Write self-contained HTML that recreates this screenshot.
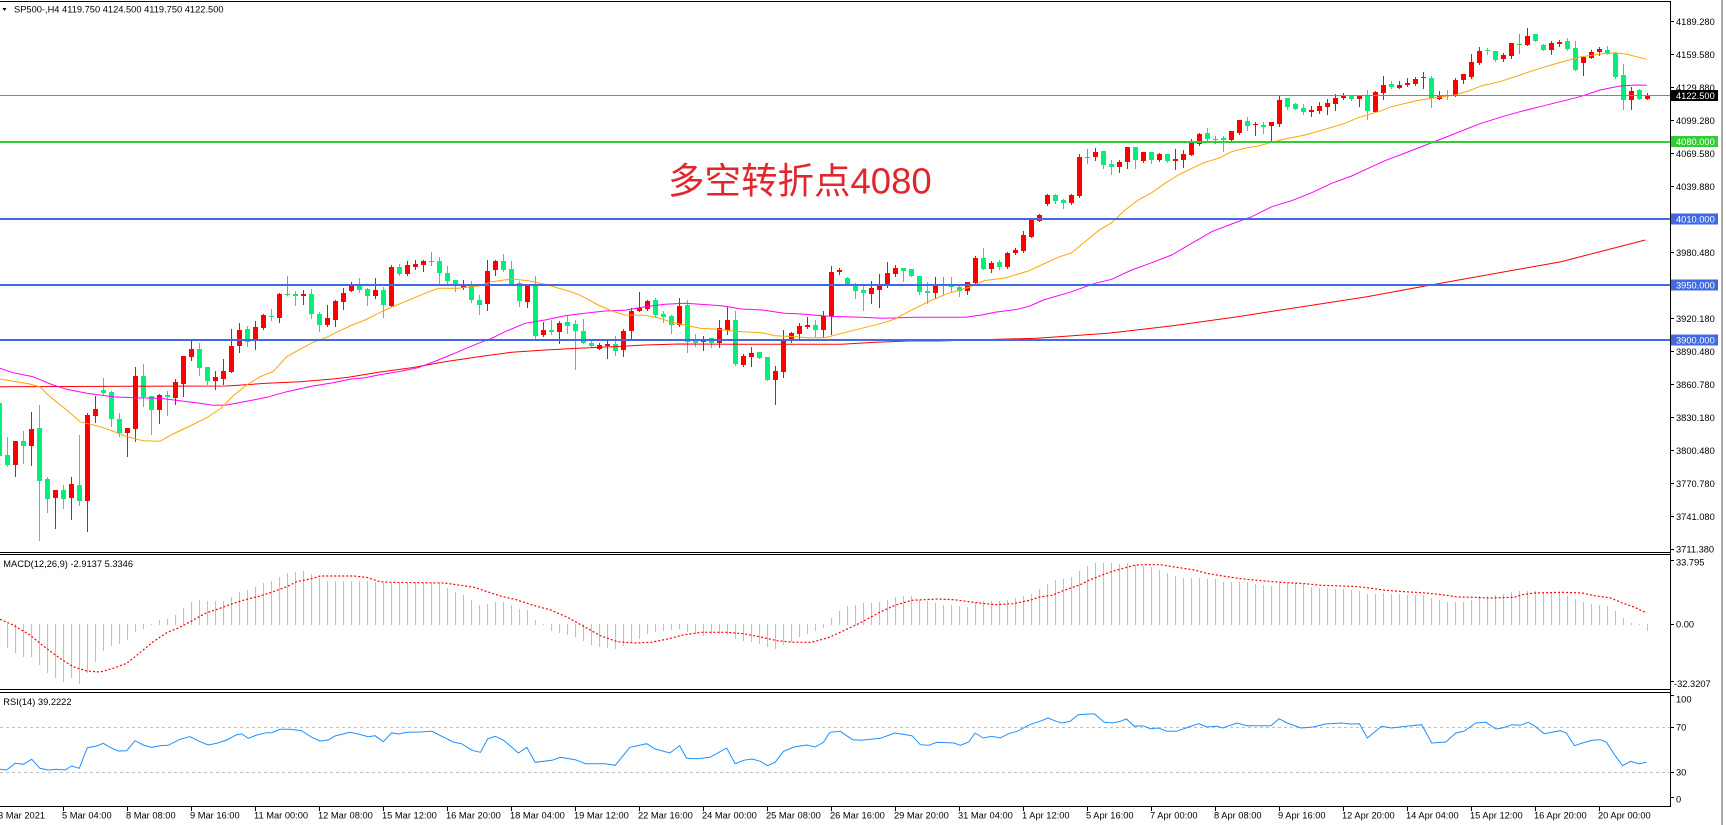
<!DOCTYPE html>
<html><head><meta charset="utf-8">
<style>
html,body{margin:0;padding:0;background:#fff;width:1726px;height:825px;overflow:hidden}
svg{display:block}
text{font-family:"Liberation Sans","Noto Sans CJK SC",sans-serif;font-size:9.3px;fill:#000}
.w{fill:#fff}
</style></head><body>
<svg id="chart" width="1726" height="825" viewBox="0 0 1726 825">
<defs>
<clipPath id="cm"><rect x="0" y="2" width="1670" height="550"/></clipPath>
<clipPath id="cd"><rect x="0" y="555" width="1670" height="134"/></clipPath>
<clipPath id="cr"><rect x="0" y="693" width="1670" height="112"/></clipPath>
</defs>
<rect width="1726" height="825" fill="#fff"/>

<g clip-path="url(#cm)">
<g id="cdl" shape-rendering="crispEdges"></g>
<polyline fill="none" stroke="#ff0000" stroke-width="1" points="0,386.7 226.7,386 266.7,383.3 300,381.7 333,379 350,377 378.3,372.3 411.7,367.7 445,361.7 478.3,356.7 511.7,352.3 545,350 578.3,348.3 611.7,346.7 645,345 678.3,344 741.7,344.3 841.7,344.3 875,342.3 908.3,341 938.3,341 990,339.5 1036.9,338.3 1108,333.3 1172.8,325.7 1237.5,316.7 1302.2,306.7 1367,296.7 1425.2,286 1496.4,273.3 1561,261.7 1645.3,240"/>
<polyline fill="none" stroke="#ff00ff" stroke-width="1" points="0,368.3 13,372.7 33,376.7 53,385 66.7,389.3 86.7,393.3 113,396.7 133,397.7 160,398.3 180,400.7 200,403.3 213,405.3 226.7,405 246.7,401.3 266.7,397.3 286.7,391.7 313,386 333,382.7 350,379.3 365,377.7 378.3,375 398.3,371.7 418.3,367.7 438.3,360 458.3,351.7 478.3,343.3 491.7,338.3 505,331.7 525,323.3 545,320 565,315.7 585,313.3 605,311 625,310.3 645,306.7 665,304.3 685,303.3 700,304.3 721.7,305.7 741.7,309 761.7,310 784.4,313.3 801.7,314 828.3,316.3 861.7,317.3 881.7,318.3 915,317.3 965.7,317.3 981.7,315 995,312.3 1017.5,309.3 1030,306 1043.3,300 1071.7,291.7 1095,283.3 1111.7,279.3 1131.7,270 1151.7,262.7 1171.7,255 1191.7,243.3 1211.7,231.7 1231.7,224 1251.7,216.7 1271.7,206.7 1291.7,200.7 1311.7,192.7 1331.7,183.3 1351.7,176 1371.7,166.7 1385,160.7 1400,155 1440,139.5 1478.3,124.3 1500,117.3 1520,111.7 1540,106.7 1560,101.7 1580,96.7 1600,90 1620,86 1636.7,85 1646.7,85.3"/>
<polyline fill="none" stroke="#ffa500" stroke-width="1" points="0,379 30,384 40,387 50,396.7 66.7,410 80,421.7 100,426.7 110,430 126.7,436.7 143,440.7 160,441.3 173,434 190,426 206.7,417.7 220,409 233,396 246.7,385 260,376.7 273,371.7 286.7,356.7 300,349.3 313,342.3 326.7,337.3 340,330.7 350,326 365,320 385,310 405,301.7 425,293.3 438.3,288.3 458,288.3 478.3,286 491.7,281.7 511.7,279 528.3,280.7 545,284.3 565,290 578.3,294.3 598.3,305 611.7,311 625,315 645,315.3 658.3,317.7 671.7,322.3 688.3,325.7 700,328.3 715,329 741.7,331.7 761.7,332.7 775,335.7 795,336.7 808.3,337.7 825,337.7 841.7,333.3 861.7,328.3 881.7,323.3 895,319 908.3,311.7 928.3,301.7 948.3,293.3 968.3,287.5 985,280.5 1005,278 1028.3,271 1045,263.3 1058.3,257.3 1071.7,252.7 1085,241.7 1098.3,230.7 1111.7,222.7 1125,210 1138.3,200 1151.7,192.7 1165,183.3 1178.3,175 1191.7,168.3 1205,162.3 1218.3,158.3 1231.7,151.7 1245,148.3 1258.3,146 1271.7,142.3 1285,139 1305,135 1325,129.3 1345,123.3 1358.3,117.7 1378.3,111.7 1391.7,106.7 1415,101 1435,97.7 1455,95 1468.3,91 1481.7,85.7 1500,81.7 1520,75 1540,68.3 1560,62.5 1580,57 1600,54 1615,52.7 1626.7,54.3 1646.7,59.3"/>
<g shape-rendering="crispEdges">
<rect x="0" y="95" width="1670" height="1" fill="#778899"/>
<rect x="0" y="141" width="1670" height="2" fill="#32cd32"/>
<rect x="0" y="218" width="1670" height="2" fill="#4169e1"/>
<rect x="0" y="284" width="1670" height="2" fill="#4169e1"/>
<rect x="0" y="339" width="1670" height="2" fill="#4169e1"/>
</g>
<text x="668" y="193.5" style="font-size:36.5px;fill:#e3262d">多空转折点4080</text>
</g>

<g clip-path="url(#cd)">
<g id="hist" shape-rendering="crispEdges"></g>
<polyline fill="none" stroke="#ff0000" stroke-width="1.2" stroke-dasharray="2 2" points="0,619.3 13.3,625 30,635 43.3,646 60,658.3 73.3,666.7 86.7,671 100,672 113.3,668.3 126.7,663.3 140,652.7 153.3,641.7 166.7,632.7 180,627.3 193.3,620 206.7,612.7 220,608.3 233.3,603.3 246.7,599.3 260,596 273.3,591.7 286.7,586.7 296.7,581.7 313.3,578.3 320,576 333.3,576 353.3,576 366.7,577.3 380,581.7 390,582.3 444.7,583 474.2,587.3 499.4,595.7 516.3,599.7 533.1,605.3 549.9,609.7 566.8,617 583.6,626.3 600.4,635.7 617.3,641.7 634.1,643 650.9,642.3 667.8,639 684.6,634.7 701.4,632.3 726.7,632.3 743.5,633.7 760.4,637 777.2,640.7 794,642.3 810.9,642.3 827.7,638 844.5,630.3 861.4,622.3 878.2,613 895,605.3 911.9,600.3 937.2,599 954,599.7 979.2,603 996.1,604.7 1012.9,603.7 1029.7,600.3 1040,597 1052,595.3 1064.1,590.3 1080.2,584.7 1088.2,580.7 1100.3,575.7 1112.3,571.3 1124.4,568 1132.4,565.7 1140.4,564.7 1160.5,564.7 1176.6,567.3 1192.7,569.7 1208.7,573.7 1224.8,576.3 1240.9,578.7 1257,580.3 1281.1,582.3 1305.2,583.7 1321.2,585.3 1353.4,586.3 1369.4,588 1385.5,590.3 1409.6,592 1425.7,593 1441.8,594.7 1457.8,597 1474,597.3 1490,598 1514.1,597.3 1522.1,594.7 1534.2,593 1562.3,592.3 1582.4,593 1594.4,595.7 1610.5,598 1622.6,603 1634.6,607.3 1646.7,613"/>
</g>

<g clip-path="url(#cr)">
<line x1="0" y1="727.5" x2="1670" y2="727.5" stroke="#c0c0c0" stroke-width="1" stroke-dasharray="3 3"/>
<line x1="0" y1="772.5" x2="1670" y2="772.5" stroke="#c0c0c0" stroke-width="1" stroke-dasharray="3 3"/>
<polyline fill="none" stroke="#1e90ff" stroke-width="1" points="0,769.3 6.7,770 15,763.3 23.3,764.3 31.7,759.3 40,768.3 48.3,770 56.7,769.3 65,770 71.7,766 79.3,768.3 87.3,747.7 96.7,746 103.3,743.3 110,747.3 118.3,751 126.7,750.7 135,740.7 143.3,745 151.7,747.3 160,745.7 168.3,745.3 180,739.3 190,736.7 200,741.7 208.3,745 216.7,743.3 226.7,740 236.7,734.7 241.7,734 248.3,738.3 256.7,735 266.7,732.7 271.7,732.7 280,729.3 290,729.3 301.7,730.7 311.7,737.3 320,741 328.3,740 335,736 350,732.3 358.3,734 368.3,736.7 375,735.7 383.3,741.7 391.7,732.7 398.4,734 406.8,732.3 419.5,732 432.1,731.3 440.5,735.7 453.1,742 461.5,743.7 472.1,750.3 480.5,752.3 487.6,739 495.2,736.3 503.6,740.3 518.4,753 526.8,747.3 535.2,762.3 552,760.3 560.5,757.3 575.2,759.7 585.7,763.7 604.6,763.7 615.2,765.3 629.9,747.3 646.7,743.7 655.2,749 669.9,753 679.6,745.7 686.7,758.3 697.2,758.7 709.9,757.3 726.7,748 735.1,763.7 743.5,760.3 752,759 760.4,761.3 767.5,765.7 775.1,762.3 783.5,751.3 794,747 806.7,745 815.1,747 823.5,742.3 829.8,732.3 840.3,731.3 846.6,735.7 852.9,739.7 861.4,740.3 880.3,738.3 895,733 911.9,735.7 920.3,744.7 928.7,745.3 937.1,742.3 954,743 960.3,745.3 968.7,742 975,733 983.4,738 991.8,736.3 1000.3,738 1008.7,733.7 1017.1,731.3 1029.7,724.7 1040,721.3 1048,718 1056.1,721.3 1062.1,723 1070.1,721.3 1078.2,714.7 1094.2,713.7 1104.3,722.3 1112.3,723 1120.4,721.3 1126.4,719 1134.4,726.3 1142.5,725.7 1150.5,728.7 1158.5,728 1166.6,731.3 1176.6,731.3 1188.7,727 1198.7,723.7 1206.7,727 1216.8,726.3 1222.8,728 1236.9,723 1246.9,725.7 1259,725.7 1271,725.7 1279.1,718.7 1287.1,723 1301.2,728 1313.2,727 1325.3,724 1341.3,723 1351.4,724 1359.4,723.7 1367.4,738 1381.5,726.3 1391.5,728 1405.6,726.3 1421.7,724.7 1431.7,743 1445.8,742 1455.8,733 1463.9,731.3 1475.9,723 1486,722.3 1496,729 1502.1,728 1512.1,724.7 1520.1,725.3 1528.2,722.3 1534.2,725.7 1544.2,733.7 1560.3,730.7 1566.3,733 1574.4,745.7 1582.4,743 1592.4,740.3 1600.5,739.7 1606.5,742.3 1614.5,754.7 1622.6,765.7 1630.6,761.3 1638.7,763.7 1646.7,762.3"/>
</g>

<!-- frame -->
<g shape-rendering="crispEdges" fill="#000">
<rect x="0" y="1" width="1671" height="1"/>
<rect x="0" y="552" width="1671" height="1"/>
<rect x="0" y="554" width="1671" height="1"/>
<rect x="0" y="689" width="1671" height="1"/>
<rect x="0" y="692" width="1671" height="1"/>
<rect x="0" y="806" width="1671" height="1"/>
<rect x="1670" y="1" width="1" height="806"/>
<!-- price ticks -->
<rect x="1670" y="21" width="4" height="1"/><rect x="1670" y="54" width="4" height="1"/>
<rect x="1670" y="87" width="4" height="1"/><rect x="1670" y="120" width="4" height="1"/>
<rect x="1670" y="153" width="4" height="1"/><rect x="1670" y="186" width="4" height="1"/>
<rect x="1670" y="219" width="4" height="1"/><rect x="1670" y="252" width="4" height="1"/>
<rect x="1670" y="285" width="4" height="1"/><rect x="1670" y="318" width="4" height="1"/>
<rect x="1670" y="351" width="4" height="1"/><rect x="1670" y="384" width="4" height="1"/>
<rect x="1670" y="417" width="4" height="1"/><rect x="1670" y="450" width="4" height="1"/>
<rect x="1670" y="483" width="4" height="1"/><rect x="1670" y="516" width="4" height="1"/>
<rect x="1670" y="549" width="4" height="1"/>
<rect x="1670" y="560" width="4" height="1"/><rect x="1670" y="624" width="4" height="1"/>
<rect x="1670" y="681" width="4" height="1"/>
<rect x="1670" y="695" width="4" height="1"/><rect x="1670" y="727" width="4" height="1"/>
<rect x="1670" y="772" width="4" height="1"/><rect x="1670" y="797" width="4" height="1"/>
</g>
<g id="xt" shape-rendering="crispEdges" fill="#000"></g>
<rect x="1721" y="0" width="2" height="825" fill="#a8a8a8"/>

<!-- price labels -->
<text x="1676" y="25">4189.280</text>
<text x="1676" y="58">4159.580</text>
<text x="1676" y="91">4129.880</text>
<text x="1676" y="124">4099.280</text>
<text x="1676" y="157">4069.580</text>
<text x="1676" y="190">4039.880</text>
<text x="1676" y="223">4010.180</text>
<text x="1676" y="256">3980.480</text>
<text x="1676" y="289">3950.780</text>
<text x="1676" y="322">3920.180</text>
<text x="1676" y="355">3890.480</text>
<text x="1676" y="388">3860.780</text>
<text x="1676" y="421">3830.180</text>
<text x="1676" y="454">3800.480</text>
<text x="1676" y="487">3770.780</text>
<text x="1676" y="520">3741.080</text>
<text x="1676" y="552.6">3711.380</text>

<rect x="1671" y="90" width="47" height="11" fill="#000"/>
<text class="w" x="1676" y="99">4122.500</text>
<rect x="1671" y="136" width="47" height="11" fill="#32cd32"/>
<text class="w" x="1676" y="145">4080.000</text>
<rect x="1671" y="213.5" width="47" height="11" fill="#4169e1"/>
<text class="w" x="1676" y="222.5">4010.000</text>
<rect x="1671" y="279.5" width="47" height="11" fill="#4169e1"/>
<text class="w" x="1676" y="288.5">3950.000</text>
<rect x="1671" y="334.5" width="47" height="11" fill="#4169e1"/>
<text class="w" x="1676" y="343.5">3900.000</text>

<text x="1676" y="565.6">33.795</text>
<text x="1676" y="627.6">0.00</text>
<text x="1674" y="687">-32.3207</text>
<text x="1676" y="702.6">100</text>
<text x="1676" y="730.6">70</text>
<text x="1676" y="775.6">30</text>
<text x="1676" y="802.6">0</text>

<!-- header / indicator labels -->
<polygon points="2.5,8 6.5,8 4.5,11" fill="#000"/>
<text x="14" y="12.7">SP500-,H4  4119.750 4124.500 4119.750 4122.500</text>
<text x="3.3" y="567">MACD(12,26,9) -2.9137 5.3346</text>
<text x="3.3" y="705">RSI(14) 39.2222</text>

<!-- time labels -->
<g>
<text x="-2" y="818.7">3 Mar 2021</text>
<text x="62" y="818.7">5 Mar 04:00</text>
<text x="126" y="818.7">8 Mar 08:00</text>
<text x="190" y="818.7">9 Mar 16:00</text>
<text x="254" y="818.7">11 Mar 00:00</text>
<text x="318" y="818.7">12 Mar 08:00</text>
<text x="382" y="818.7">15 Mar 12:00</text>
<text x="446" y="818.7">16 Mar 20:00</text>
<text x="510" y="818.7">18 Mar 04:00</text>
<text x="574" y="818.7">19 Mar 12:00</text>
<text x="638" y="818.7">22 Mar 16:00</text>
<text x="702" y="818.7">24 Mar 00:00</text>
<text x="766" y="818.7">25 Mar 08:00</text>
<text x="830" y="818.7">26 Mar 16:00</text>
<text x="894" y="818.7">29 Mar 20:00</text>
<text x="958" y="818.7">31 Mar 04:00</text>
<text x="1022" y="818.7">1 Apr 12:00</text>
<text x="1086" y="818.7">5 Apr 16:00</text>
<text x="1150" y="818.7">7 Apr 00:00</text>
<text x="1214" y="818.7">8 Apr 08:00</text>
<text x="1278" y="818.7">9 Apr 16:00</text>
<text x="1342" y="818.7">12 Apr 20:00</text>
<text x="1406" y="818.7">14 Apr 04:00</text>
<text x="1470" y="818.7">15 Apr 12:00</text>
<text x="1534" y="818.7">16 Apr 20:00</text>
<text x="1598" y="818.7">20 Apr 00:00</text>
</g>
</svg>
<script>
(function(){
var svg=document.getElementById('chart');var NS=svg.namespaceURI;
function R(p,x,y,w,h,f){var r=document.createElementNS(NS,'rect');r.setAttribute('x',x);r.setAttribute('y',y);r.setAttribute('width',w);r.setAttribute('height',h);r.setAttribute('fill',f);p.appendChild(r);}
var D=[[403,456,395,460],[455,465,437,466],[465,441,441,476],[441,446,431,463],[446,429,412,465],[428,481,405,540],[479,499,477,512],[498,490,490,528],[490,499,485,508],[498,484,477,519],[485,501,435,505],[501,415,413,531],[416,409,396,422],[390,393,378,395],[392,419,391,426],[419,433,413,436],[433,428,428,456],[429,376,367,441],[376,397,364,406],[396,410,396,434],[410,395,394,423],[395,397,391,415],[398,382,379,404],[384,356,356,396],[357,349,341,360],[349,368,343,375],[367,381,367,384],[381,377,371,389],[379,371,359,384],[372,346,329,372],[346,330,323,352],[329,342,326,346],[339,327,321,349],[328,315,314,329],[316,317,309,320],[318,294,293,322],[294,294,276,295],[294,296,291,305],[296,294,290,304],[294,314,289,318],[314,325,312,331],[325,318,305,326],[320,301,300,326],[302,293,288,309],[291,286,282,291],[285,290,278,292],[289,296,288,305],[296,290,278,298],[290,305,287,317],[306,267,265,306],[267,274,264,275],[274,265,261,275],[267,264,260,269],[265,261,260,271],[261,261,252,265],[261,273,257,283],[273,281,266,283],[280,285,280,291],[288,285,280,289],[285,300,281,302],[300,305,295,314],[304,271,260,310],[270,261,260,275],[261,270,254,271],[269,284,261,285],[283,301,281,306],[302,286,285,307],[285,336,276,339],[335,330,322,336],[330,332,320,334],[332,323,321,343],[322,326,316,333],[324,331,320,369],[331,343,319,343],[343,346,341,346],[349,345,343,349],[346,344,341,358],[344,351,336,355],[350,331,329,356],[331,311,308,338],[311,308,292,311],[309,301,300,310],[300,315,298,317],[314,317,311,322],[316,325,315,333],[325,306,298,326],[305,342,300,352],[340,343,334,346],[342,340,336,350],[338,343,338,347],[343,328,320,347],[330,320,307,334],[320,364,311,365],[365,356,354,366],[357,353,347,366],[352,358,352,358],[357,380,357,380],[380,371,366,404],[372,340,330,377],[340,333,332,342],[334,326,323,338],[327,325,317,328],[325,330,320,336],[330,316,311,337],[316,272,266,334],[272,270,268,274],[278,284,277,284],[285,291,283,298],[290,293,286,310],[294,288,281,303],[290,285,274,307],[286,273,262,287],[274,268,265,276],[268,271,268,281],[269,276,269,276],[276,292,276,294],[291,293,282,303],[293,285,277,298],[285,285,277,294],[285,287,277,291],[287,291,285,296],[291,282,282,294],[283,258,256,284],[258,269,248,269],[269,263,261,272],[262,267,260,269],[267,253,252,268],[253,250,248,254],[251,235,231,252],[237,219,219,237],[221,215,214,221],[204,195,194,205],[195,201,194,203],[200,203,199,208],[203,195,194,204],[196,157,154,197],[157,157,149,163],[157,152,148,160],[151,165,151,168],[164,167,160,174],[167,162,160,172],[162,147,147,168],[147,160,147,168],[161,152,152,162],[152,160,152,163],[160,154,153,161],[154,161,154,162],[161,159,149,169],[160,154,150,167],[155,143,139,155],[144,134,133,145],[133,139,128,140],[139,139,136,143],[138,140,136,151],[140,131,131,142],[133,120,120,134],[121,126,117,130],[125,124,122,135],[125,127,122,133],[126,122,122,142],[124,100,96,126],[98,107,98,109],[104,109,103,109],[108,112,104,114],[112,110,106,116],[111,106,102,113],[107,103,99,114],[104,98,94,110],[98,95,93,99],[95,99,95,100],[99,95,95,106],[95,111,90,119],[112,92,91,112],[93,85,76,99],[84,87,81,88],[88,85,81,88],[85,83,78,86],[84,79,77,85],[78,77,72,88],[78,98,76,107],[99,95,91,99],[95,96,90,99],[95,80,78,96],[80,74,74,83],[77,62,54,78],[63,51,47,64],[50,51,48,54],[51,60,51,61],[59,55,53,61],[56,43,43,58],[44,44,34,53],[45,36,28,45],[34,41,34,41],[45,50,44,50],[50,43,41,54],[44,42,40,46],[41,49,38,50],[48,70,41,70],[63,57,57,75],[58,52,50,58],[52,49,47,55],[50,54,46,54],[53,77,52,78],[75,100,64,109],[100,91,87,109],[90,99,89,99],[99,95,93,99]];
var g=document.getElementById('cdl');
for(var k=0;k<D.length;k++){var d=D[k],x=-1+8*k,o=d[0],c=d[1],h=d[2],l=d[3];
var col=c<o?'#ff0000':(c>o?'#00f07a':'#22dd22');
R(g,x,h,1,Math.max(1,l-h+1),col);
R(g,x-2,Math.min(o,c),5,Math.max(1,Math.abs(o-c)),col);}
var H=[642,646.7,651.7,656,656,664,671.7,676.7,680.7,676.7,682.7,671.7,660.7,650,645,642.7,639.3,630.7,628,624,620,618.7,615,608.3,601.7,600,601,601,600.7,597.3,592,590,587.3,583.3,581,576.7,573.3,572,571,574.3,578.3,581,581,581,580.7,580.7,581,582,583,583,583,583,583,583,583,583,588,592,595.3,599.7,604.7,603.7,602,602.3,604.7,609,610.3,619.7,623.7,629.7,632,633.7,636.3,639.7,643.7,645.7,647,648,645,641.3,638,633,631.3,630.3,629,628,631.3,633,634.7,633,633,633.7,638,640.3,641.3,643,646.3,648,643.7,641.3,636.3,633,630.3,627,618,611.3,606.3,604.7,603,603,602.3,599.7,597,596.3,596.3,599.7,601.3,603,604.7,605.3,606.3,607,603,601.3,601.3,601.3,599.7,598,596.3,593.7,589,584,579.7,578.7,577,571.3,566.3,563,563,563,564,563,564.7,566.3,567,569.7,573,576.3,578,578,578,579,579,582,582,582,582,583.7,584.7,585.7,583,583,583,583.7,587,588,588,589,589,590.3,591.3,594,594,593,593.7,594,594.7,594.7,594.7,598,599.7,602.3,602.3,602.3,599.7,596.3,595.7,594.7,593.7,592.3,591.3,591.3,591.3,592.3,593,593,595.7,599,602,604,605.3,606.3,611.3,618,623,623.7,629.7];
var hg=document.getElementById('hist');
for(var k=0;k<H.length;k++){var x=-1+8*k,v=Math.round(H[k]);
if(v<624){R(hg,x,v,1,625-v,'#c0c0c0');}else{R(hg,x,624,1,Math.max(1,v-623),'#c0c0c0');}}
var xt=document.getElementById('xt');
for(var i=-1;i<25;i++){R(xt,63+64*i,807,1,4,'#000');}
})();
</script>
</body></html>
